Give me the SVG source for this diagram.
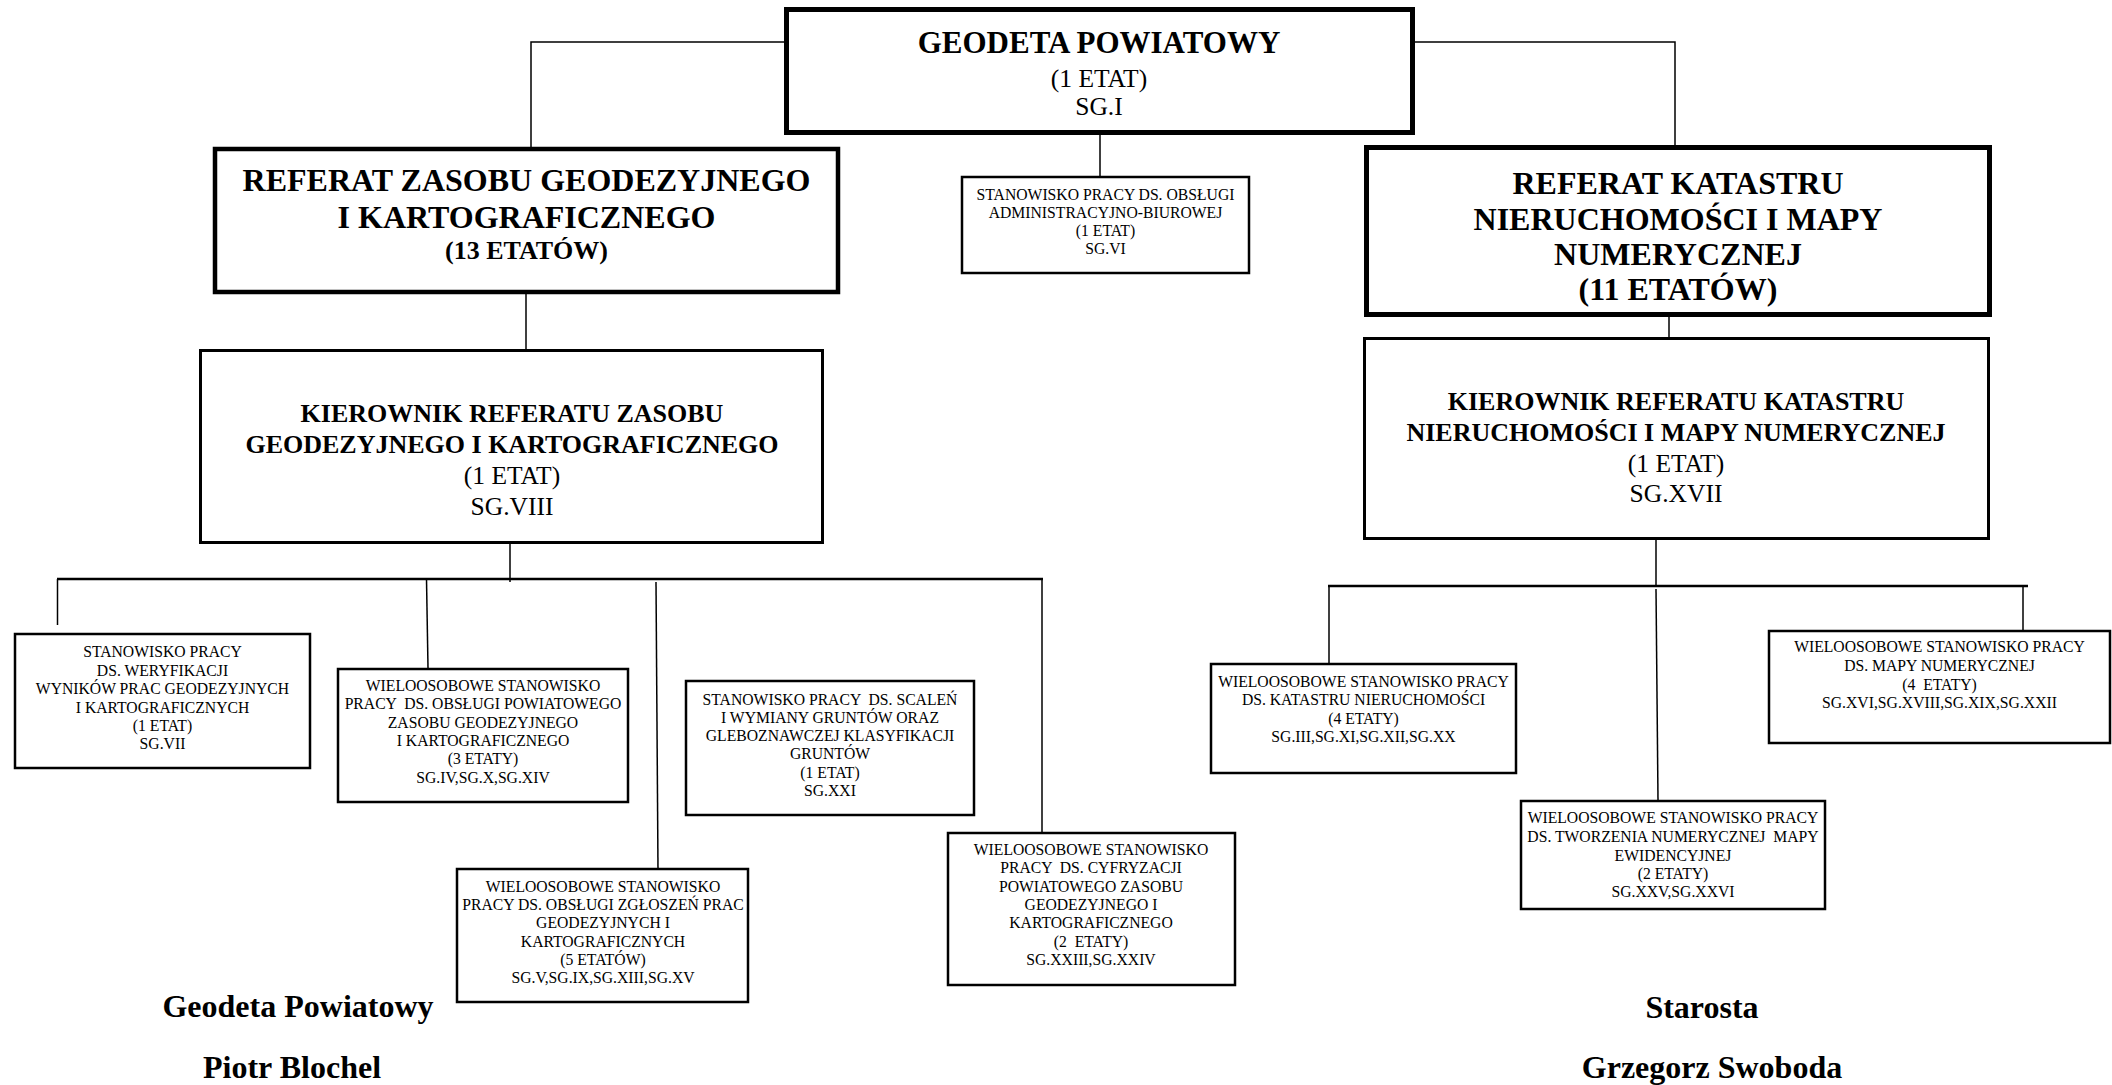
<svg xmlns="http://www.w3.org/2000/svg" width="2112" height="1085" viewBox="0 0 2112 1085">
<style>
text{font-family:"Liberation Serif","Times New Roman",serif;fill:#000;text-anchor:middle;white-space:pre}
.b{font-weight:bold}
.t1{font-size:31px}
.t2{font-size:32px}
.t3{font-size:26px}
.t4{font-size:25.5px}
.s{font-size:15.7px}
.sig{font-size:32px;font-weight:bold}
rect{fill:#fff;stroke:#000}
.big{stroke-width:5}
.mid{stroke-width:4.5}
.kier{stroke-width:3}
.sm{stroke-width:2.5}
.con line,.con polyline{stroke:#000;stroke-width:1.5;fill:none}
.con .bus{stroke-width:2.5}
</style>
<rect width="2112" height="1085" style="fill:#fff;stroke:none"/>
<g class="con" id="connectors">
<polyline points="787,42 531,42 531,149"/>
<polyline points="1413,42 1675,42 1675,147"/>
<line x1="1100" y1="134" x2="1100" y2="177"/>
<line x1="526" y1="294" x2="526" y2="350"/>
<line x1="1669" y1="316" x2="1669" y2="338"/>
<line x1="510" y1="544" x2="510" y2="582"/>
<line class="bus" x1="57" y1="579" x2="1043" y2="579"/>
<line x1="57.5" y1="579" x2="57.5" y2="625"/>
<line x1="426.5" y1="579" x2="428" y2="668"/>
<line x1="656" y1="582" x2="658" y2="869"/>
<line x1="1042" y1="579" x2="1042" y2="832"/>
<line x1="1656" y1="540" x2="1656" y2="586"/>
<line class="bus" x1="1328" y1="586" x2="2028" y2="586"/>
<line x1="1329" y1="586" x2="1329" y2="663"/>
<line x1="1656" y1="589" x2="1658" y2="800"/>
<line x1="2023" y1="586" x2="2023" y2="630"/>
</g>
<g id="geodeta">
<rect class="big" x="786.5" y="9.5" width="626" height="123"/>
<text class="b t1" x="1099" y="53">GEODETA POWIATOWY</text>
<text class="t4" x="1099" y="87">(1 ETAT)</text>
<text class="t4" x="1099" y="115">SG.I</text>
</g>
<g id="referat-zasobu">
<rect class="mid" x="215" y="149" width="623" height="143"/>
<text class="b t2" x="526.5" y="191">REFERAT ZASOBU GEODEZYJNEGO</text>
<text class="b t2" x="526.5" y="228">I KARTOGRAFICZNEGO</text>
<text class="b t3" x="526.5" y="259">(13 ETATÓW)</text>
</g>
<g id="admin">
<rect class="sm" x="962" y="177" width="287" height="96"/>
<text class="s" x="1105.5" y="200">STANOWISKO PRACY DS. OBSŁUGI</text>
<text class="s" x="1105.5" y="218">ADMINISTRACYJNO-BIUROWEJ</text>
<text class="s" x="1105.5" y="236">(1 ETAT)</text>
<text class="s" x="1105.5" y="254">SG.VI</text>
</g>
<g id="referat-katastru">
<rect class="big" x="1366.5" y="147.5" width="623" height="167"/>
<text class="b t2" x="1678" y="194">REFERAT KATASTRU</text>
<text class="b t2" x="1678" y="230">NIERUCHOMOŚCI I MAPY</text>
<text class="b t2" x="1678" y="265">NUMERYCZNEJ</text>
<text class="b t2" x="1678" y="300">(11 ETATÓW)</text>
</g>
<g id="kierownik-zasobu">
<rect class="kier" x="200.5" y="350.5" width="622" height="192"/>
<text class="b t3" x="512" y="422">KIEROWNIK REFERATU ZASOBU</text>
<text class="b t3" x="512" y="453">GEODEZYJNEGO I KARTOGRAFICZNEGO</text>
<text class="t4" x="512" y="484">(1 ETAT)</text>
<text class="t4" x="512" y="515">SG.VIII</text>
</g>
<g id="kierownik-katastru">
<rect class="kier" x="1364.5" y="338.5" width="624" height="200"/>
<text class="b t3" x="1676" y="410">KIEROWNIK REFERATU KATASTRU</text>
<text class="b t3" x="1676" y="441">NIERUCHOMOŚCI I MAPY NUMERYCZNEJ</text>
<text class="t4" x="1676" y="472">(1 ETAT)</text>
<text class="t4" x="1676" y="502">SG.XVII</text>
</g>
<g id="weryfikacja">
<rect class="sm" x="15" y="634" width="295" height="134"/>
<text class="s" x="162.5" y="657">STANOWISKO PRACY</text>
<text class="s" x="162.5" y="676">DS. WERYFIKACJI</text>
<text class="s" x="162.5" y="694">WYNIKÓW PRAC GEODEZYJNYCH</text>
<text class="s" x="162.5" y="713">I KARTOGRAFICZNYCH</text>
<text class="s" x="162.5" y="731">(1 ETAT)</text>
<text class="s" x="162.5" y="749">SG.VII</text>
</g>
<g id="obsluga-zasobu">
<rect class="sm" x="338" y="669" width="290" height="133"/>
<text class="s" x="483" y="691">WIELOOSOBOWE STANOWISKO</text>
<text class="s" x="483" y="709">PRACY  DS. OBSŁUGI POWIATOWEGO</text>
<text class="s" x="483" y="728">ZASOBU GEODEZYJNEGO</text>
<text class="s" x="483" y="746">I KARTOGRAFICZNEGO</text>
<text class="s" x="483" y="764">(3 ETATY)</text>
<text class="s" x="483" y="783">SG.IV,SG.X,SG.XIV</text>
</g>
<g id="scalenia">
<rect class="sm" x="686" y="681" width="288" height="134"/>
<text class="s" x="830" y="705">STANOWISKO PRACY  DS. SCALEŃ</text>
<text class="s" x="830" y="723">I WYMIANY GRUNTÓW ORAZ</text>
<text class="s" x="830" y="741">GLEBOZNAWCZEJ KLASYFIKACJI</text>
<text class="s" x="830" y="759">GRUNTÓW</text>
<text class="s" x="830" y="778">(1 ETAT)</text>
<text class="s" x="830" y="796">SG.XXI</text>
</g>
<g id="zgloszenia">
<rect class="sm" x="457" y="869" width="291" height="133"/>
<text class="s" x="603" y="892">WIELOOSOBOWE STANOWISKO</text>
<text class="s" x="603" y="910">PRACY DS. OBSŁUGI ZGŁOSZEŃ PRAC</text>
<text class="s" x="603" y="928">GEODEZYJNYCH I</text>
<text class="s" x="603" y="947">KARTOGRAFICZNYCH</text>
<text class="s" x="603" y="965">(5 ETATÓW)</text>
<text class="s" x="603" y="983">SG.V,SG.IX,SG.XIII,SG.XV</text>
</g>
<g id="cyfryzacja">
<rect class="sm" x="948" y="833" width="287" height="152"/>
<text class="s" x="1091" y="855">WIELOOSOBOWE STANOWISKO</text>
<text class="s" x="1091" y="873">PRACY  DS. CYFRYZACJI</text>
<text class="s" x="1091" y="892">POWIATOWEGO ZASOBU</text>
<text class="s" x="1091" y="910">GEODEZYJNEGO I</text>
<text class="s" x="1091" y="928">KARTOGRAFICZNEGO</text>
<text class="s" x="1091" y="947">(2  ETATY)</text>
<text class="s" x="1091" y="965">SG.XXIII,SG.XXIV</text>
</g>
<g id="kataster">
<rect class="sm" x="1211" y="664" width="305" height="109"/>
<text class="s" x="1363.5" y="687">WIELOOSOBOWE STANOWISKO PRACY</text>
<text class="s" x="1363.5" y="705">DS. KATASTRU NIERUCHOMOŚCI</text>
<text class="s" x="1363.5" y="724">(4 ETATY)</text>
<text class="s" x="1363.5" y="742">SG.III,SG.XI,SG.XII,SG.XX</text>
</g>
<g id="tworzenie-mapy">
<rect class="sm" x="1521" y="801" width="304" height="108"/>
<text class="s" x="1673" y="823">WIELOOSOBOWE STANOWISKO PRACY</text>
<text class="s" x="1673" y="842">DS. TWORZENIA NUMERYCZNEJ  MAPY</text>
<text class="s" x="1673" y="861">EWIDENCYJNEJ</text>
<text class="s" x="1673" y="879">(2 ETATY)</text>
<text class="s" x="1673" y="897">SG.XXV,SG.XXVI</text>
</g>
<g id="mapa-numeryczna">
<rect class="sm" x="1769" y="631" width="341" height="112"/>
<text class="s" x="1939.5" y="652">WIELOOSOBOWE STANOWISKO PRACY</text>
<text class="s" x="1939.5" y="671">DS. MAPY NUMERYCZNEJ</text>
<text class="s" x="1939.5" y="690">(4  ETATY)</text>
<text class="s" x="1939.5" y="708">SG.XVI,SG.XVIII,SG.XIX,SG.XXII</text>
</g>
<g id="podpisy">
<text class="sig" x="298" y="1017">Geodeta Powiatowy</text>
<text class="sig" x="292" y="1078">Piotr Blochel</text>
<text class="sig" x="1702" y="1018">Starosta</text>
<text class="sig" x="1712" y="1078">Grzegorz Swoboda</text>
</g>
</svg>
